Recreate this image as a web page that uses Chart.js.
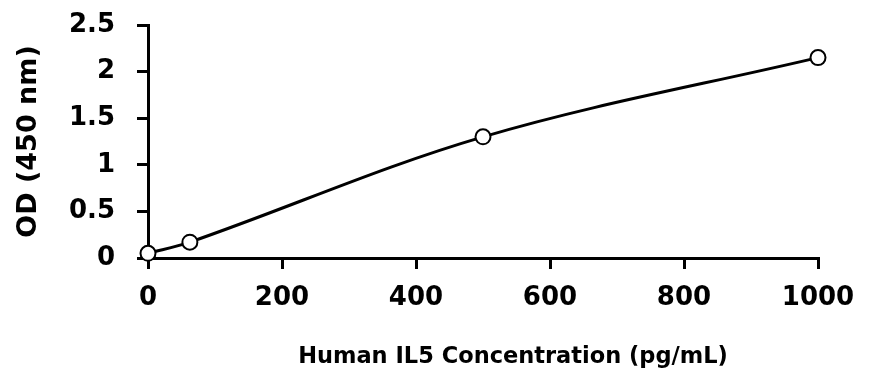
<!DOCTYPE html>
<html>
<head>
<meta charset="utf-8">
<script src="https://cdn.jsdelivr.net/npm/chart.js@4"></script>
<style>
  html, body { margin: 0; padding: 0; background: #fff; }
  #wrap { width: 873px; height: 387px; }
</style>
</head>
<body>
<div id="wrap"><canvas id="chart" width="873" height="387"></canvas></div>
<script>
// concentration (pg/mL) and OD readings
var concentrations = [0, 62.5, 500, 1000];
var odValues = [0.05, 0.17, 1.30, 2.15];
var xTitle = "Human IL5 Concentration (pg/mL)";
var yTitle = "OD (450 nm)";

var FONT = "'DejaVu Sans', sans-serif";

var points = [];
for (var i = 0; i < concentrations.length; i++) {
    points.push({x: concentrations[i], y: odValues[i]});
}

// x title sits a bit right of the plot centre in the original, draw it ourselves
var xTitlePlugin = {
    id: "xTitle",
    afterDraw: function(chart) {
        var ctx = chart.ctx;
        var area = chart.chartArea;
        ctx.save();
        ctx.font = "bold 22.5px " + FONT;
        ctx.fillStyle = "#000";
        ctx.textAlign = "center";
        ctx.textBaseline = "middle";
        ctx.fillText(xTitle, (area.left + area.right) / 2 + 30, 357);
        ctx.restore();
    }
};

function plain(v) { return String(v); }

new Chart(document.getElementById("chart").getContext("2d"), {
    type: "line",
    data: {
        datasets: [{
            data: points,
            borderColor: "#000",
            borderWidth: 3,
            tension: 0.35,
            pointRadius: 7.5,
            pointHoverRadius: 7.5,
            pointBackgroundColor: "#fff",
            pointBorderColor: "#000",
            pointBorderWidth: 2,
            clip: false
        }]
    },
    options: {
        responsive: false,
        animation: false,
        layout: {padding: {top: 25, right: 55, left: 0, bottom: 0}},
        plugins: {legend: {display: false}, tooltip: {enabled: false}},
        scales: {
            x: {
                type: "linear",
                min: 0,
                max: 1000,
                afterFit: function(scale) {
                    scale.height = 129;
                    scale.paddingLeft = 0;
                    scale.paddingRight = 0;
                },
                ticks: {stepSize: 200, color: "#000", padding: 14, callback: plain,
                        font: {family: FONT, size: 26, weight: "bold"}},
                grid: {drawOnChartArea: false, drawTicks: true, tickLength: 11,
                       color: "#000", lineWidth: 3},
                border: {color: "#000", width: 3}
            },
            y: {
                min: 0,
                max: 2.5,
                afterFit: function(scale) {
                    scale.width = 148;
                    scale.paddingTop = 0;
                    scale.paddingBottom = 0;
                },
                ticks: {stepSize: 0.5, color: "#000", padding: 22, callback: plain,
                        font: {family: FONT, size: 26, weight: "bold"}},
                grid: {drawOnChartArea: false, drawTicks: true, tickLength: 11,
                       color: "#000", lineWidth: 3},
                border: {color: "#000", width: 3},
                title: {display: true, text: yTitle, color: "#000",
                        padding: {top: 13, bottom: 0},
                        font: {family: FONT, size: 27, weight: "bold"}}
            }
        }
    },
    plugins: [xTitlePlugin]
});
</script>
</body>
</html>
